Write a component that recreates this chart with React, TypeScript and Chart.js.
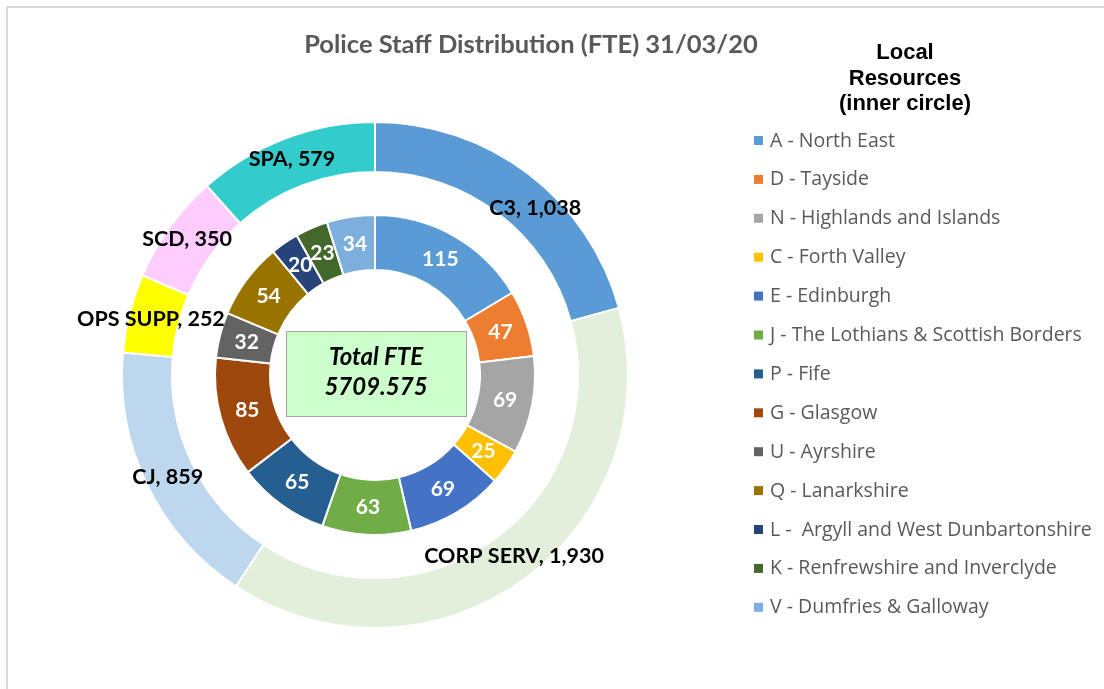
import React, { useEffect, useRef } from "react";
import { Chart, registerables } from "chart.js";

Chart.register(...registerables);

const outerLabels = ["C3", "CORP SERV", "CJ", "OPS SUPP", "SCD", "SPA"];
const outerValues = [1038, 1930, 859, 252, 350, 579];
const outerColors = ["#5B9BD5", "#E2EFDA", "#BDD7EE", "#FFFF00", "#FFCCFF", "#33CCCC"];

const innerLabels = [
  "A - North East",
  "D - Tayside",
  "N - Highlands and Islands",
  "C - Forth Valley",
  "E - Edinburgh",
  "J - The Lothians & Scottish Borders",
  "P - Fife",
  "G - Glasgow",
  "U - Ayrshire",
  "Q - Lanarkshire",
  "L -  Argyll and West Dunbartonshire",
  "K - Renfrewshire and Inverclyde",
  "V - Dumfries & Galloway",
];
const innerValues = [115, 47, 69, 25, 69, 63, 65, 85, 32, 54, 20, 23, 34];
const innerColors = [
  "#5B9BD5", "#ED7D31", "#A5A5A5", "#FFC000", "#4472C4", "#70AD47", "#255E91",
  "#9E480E", "#636363", "#997300", "#264478", "#43682B", "#7CAFDD",
];

const titleText = "Police Staff Distribution (FTE) 31/03/20";
const legendTitle = ["Local", "Resources", "(inner circle)"];
const centerLines = ["Total FTE", "5709.575"];

// small nudges for outer labels (Excel label placement)
const outerNudge: [number, number][] = [[22, 14], [5, -3], [-2, 3], [-3, 0], [-3, -3], [-2, -3]];

const overlay = {
  id: "overlay",
  afterDatasetsDraw(chart: any) {
    const ctx = chart.ctx;
    ctx.save();
    // frame
    ctx.strokeStyle = "#D9D9D9";
    ctx.lineWidth = 2;
    ctx.beginPath();
    ctx.moveTo(7, 700);
    ctx.lineTo(7, 7);
    ctx.lineTo(1110, 7);
    ctx.stroke();

    // title
    ctx.fillStyle = "#595959";
    ctx.font = "bold 25.5px Lato";
    ctx.textAlign = "center";
    ctx.textBaseline = "middle";
    ctx.fillText(titleText, 531, 45);

    // outer labels
    const outerMeta = chart.getDatasetMeta(0);
    ctx.fillStyle = "#000000";
    ctx.font = "bold 21.5px Lato";
    outerMeta.data.forEach((arc: any, i: number) => {
      const p = arc.getProps(["x", "y", "startAngle", "endAngle", "innerRadius", "outerRadius"], true);
      const a = (p.startAngle + p.endAngle) / 2;
      const r = (p.innerRadius + p.outerRadius) / 2;
      const x = p.x + Math.cos(a) * r + outerNudge[i][0];
      const y = p.y + Math.sin(a) * r + outerNudge[i][1];
      ctx.fillText(outerLabels[i] + ", " + outerValues[i].toLocaleString("en-GB"), x, y);
    });

    // inner labels
    const innerMeta = chart.getDatasetMeta(2);
    ctx.fillStyle = "#FFFFFF";
    ctx.font = "bold 21px Lato";
    innerMeta.data.forEach((arc: any, i: number) => {
      const p = arc.getProps(["x", "y", "startAngle", "endAngle", "innerRadius", "outerRadius"], true);
      const a = (p.startAngle + p.endAngle) / 2;
      const r = (p.innerRadius + p.outerRadius) / 2;
      ctx.fillText(String(innerValues[i]), p.x + Math.cos(a) * r, p.y + Math.sin(a) * r);
    });

    // center box
    const cx = innerMeta.data[0].x;
    const cy = innerMeta.data[0].y;
    ctx.fillStyle = "#CCFFCC";
    ctx.fillRect(cx - 89, cy - 44, 180, 85);
    ctx.strokeStyle = "#A6A6A6";
    ctx.lineWidth = 1;
    ctx.strokeRect(cx - 88.5, cy - 43.5, 180, 85);
    ctx.fillStyle = "#000000";
    ctx.font = "italic bold 24px Lato";
    ctx.fillText(centerLines[0], cx + 1, cy - 18);
    ctx.fillText(centerLines[1], cx + 1, cy + 12);

    // legend
    ctx.font = "bold 22px 'Liberation Sans'";
    legendTitle.forEach((t, i) => ctx.fillText(t, 905, 53 + i * 25.5));
    ctx.textAlign = "left";
    ctx.font = "19.5px 'Open Sans'";
    innerLabels.forEach((t, i) => {
      const y = 141 + i * 38.9;
      ctx.fillStyle = innerColors[i];
      ctx.fillRect(754, y - 5, 9, 9);
      ctx.fillStyle = "#595959";
      ctx.fillText(t, 770, y);
    });
    ctx.restore();
  },
};

export default function App() {
  const ref = useRef<HTMLCanvasElement>(null);
  useEffect(() => {
    const chart = new Chart(ref.current as HTMLCanvasElement, {
      type: "doughnut",
      data: {
        labels: innerLabels,
        datasets: [
          {
            data: outerValues,
            backgroundColor: outerColors,
            borderColor: "#FFFFFF",
            borderWidth: 2,
            weight: 50,
          } as any,
          {
            data: [1],
            backgroundColor: ["rgba(0,0,0,0)"],
            borderWidth: 0,
            weight: 43,
          } as any,
          {
            data: innerValues,
            backgroundColor: innerColors,
            borderColor: "#FFFFFF",
            borderWidth: 2,
            weight: 55,
          } as any,
        ],
      },
      options: {
        animation: false,
        responsive: false,
        cutout: (105 / 253) * 100 + "%",
        layout: { padding: { left: 121, top: 121, right: 475, bottom: 60 } },
        plugins: {
          legend: { display: false },
          title: { display: false },
          tooltip: { enabled: false },
        },
        events: [],
      } as any,
      plugins: [overlay],
    });
    return () => chart.destroy();
  }, []);
  return (
    <div style={{ position: "fixed", left: 0, top: 0, width: 1104, height: 689, background: "#fff" }}>
      <canvas ref={ref} width={1104} height={689} style={{ width: 1104, height: 689, display: "block" }} />
    </div>
  );
}
